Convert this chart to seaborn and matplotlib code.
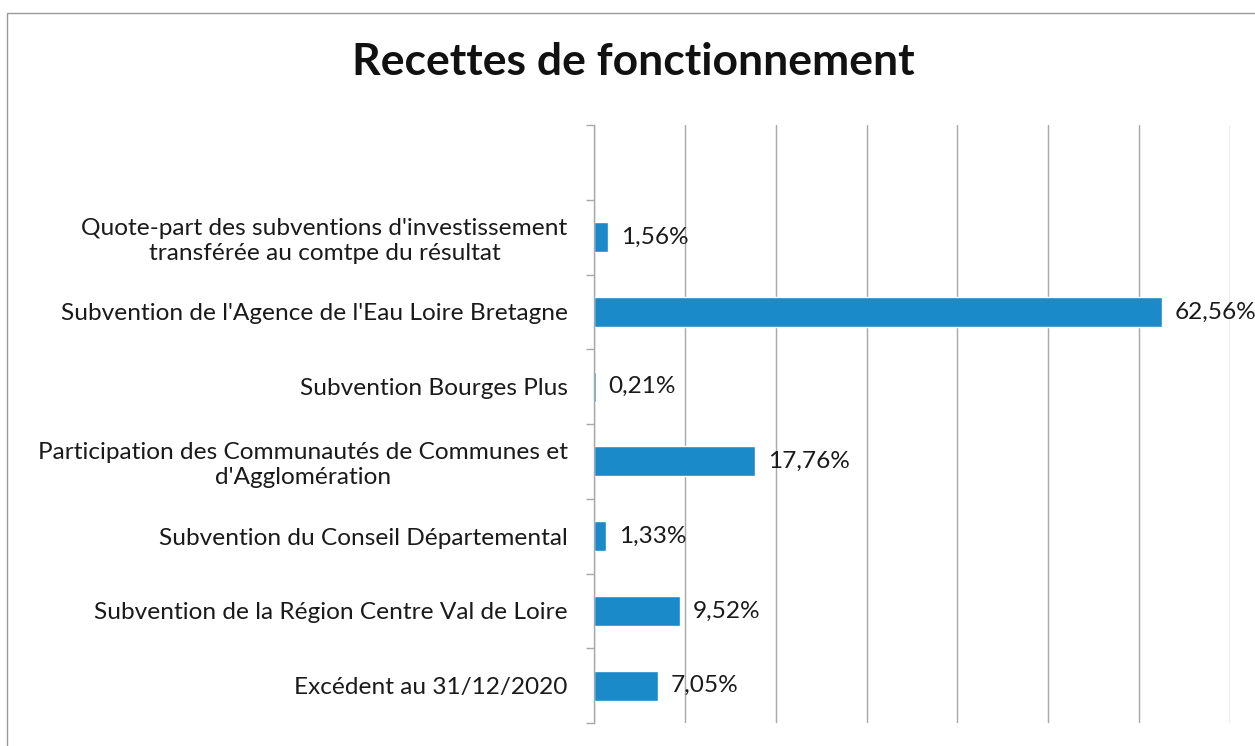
import pandas as pd
import seaborn as sns
import matplotlib.pyplot as plt
import matplotlib.patches as mpatches
import numpy as np

# data
categories = [
    "Quote-part des subventions d'investissement\ntransférée au comtpe du résultat",
    "Subvention de l'Agence de l'Eau Loire Bretagne",
    "Subvention Bourges Plus",
    "Participation des Communautés de Communes et\nd'Agglomération",
    "Subvention du Conseil Départemental",
    "Subvention de la Région Centre Val de Loire",
    "Excédent au 31/12/2020",
]
values = [1.56, 62.56, 0.21, 17.76, 1.33, 9.52, 7.05]
value_labels = ["1,56%", "62,56%", "0,21%", "17,76%", "1,33%", "9,52%", "7,05%"]

df = pd.DataFrame({'poste': categories, 'part': values})

sns.set_style('white')
plt.rcParams['font.family'] = ['Lato', 'DejaVu Sans']

fig = plt.figure(figsize=(12.55, 7.46), dpi=100)
ax = fig.add_axes([594 / 1255, 1 - 723 / 746, (1230 - 594) / 1255, (723 - 125) / 746])

# chart frame (top and left edges visible in the scan)
fig.patches.append(mpatches.Rectangle((7 / 1255, -0.05), 1.2, 1 - 13 / 746 + 0.05,
                                      transform=fig.transFigure, fill=False,
                                      edgecolor='#9a9a9a', linewidth=1.0))

sns.barplot(data=df, y='poste', x='part', orient='h', color='#1a8ac8',
            width=0.4, saturation=1, ax=ax)

ax.set_xlim(0, 70)
ax.set_ylim(6.5, -1.5)
ax.set_xticks(np.arange(0, 71, 10))
ax.set_xticklabels([])
ax.tick_params(axis='x', length=0)
ax.grid(axis='x', color='#a8a8a8', linewidth=1.0)
ax.set_axisbelow(True)

# category ticks sit between the bars
ax.set_yticks(np.arange(-1.5, 6.6, 1.0), minor=True)
ax.tick_params(axis='y', which='minor', length=6, color='#a8a8a8', width=1, left=True)
ax.tick_params(axis='y', which='major', length=0, pad=19, labelsize=17.6, labelcolor='#1a1a1a')
for lab in ax.get_yticklabels():
    lab.set_multialignment('center')

for side in ['top', 'right', 'bottom']:
    ax.spines[side].set_visible(False)
ax.spines['left'].set_color('#a8a8a8')
ax.spines['left'].set_linewidth(1.0)

ax.set_xlabel('')
ax.set_ylabel('')

ax.bar_label(ax.containers[0], labels=value_labels, padding=9, fontsize=17.6, color='#1a1a1a')

fig.text(633 / 1255, 1 - 62 / 746, 'Recettes de fonctionnement', ha='center', va='center',
         fontsize=32, fontweight='bold', color='#111111')

fig.savefig('out.png', dpi=100)
